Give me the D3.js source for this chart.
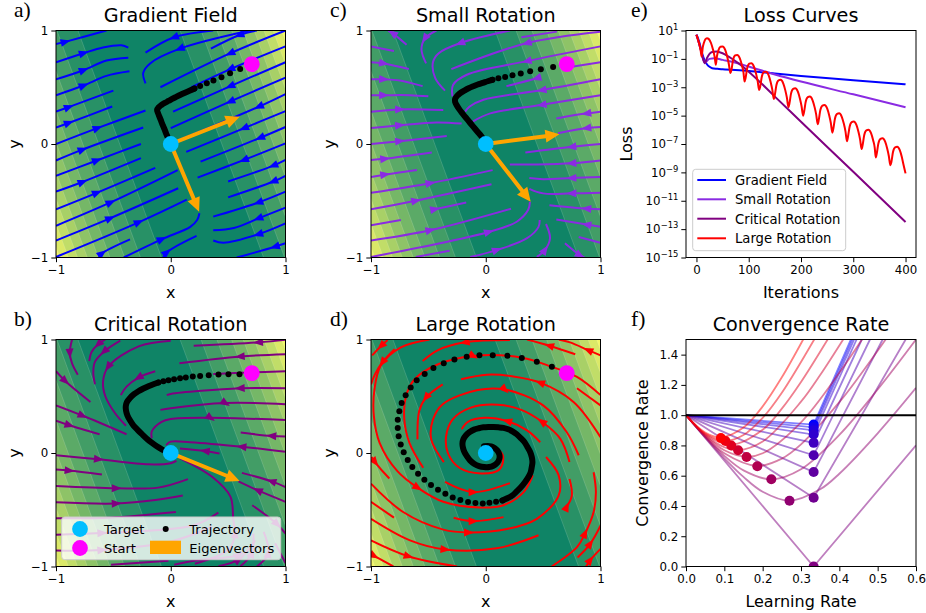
<!DOCTYPE html>
<html lang="en">
<head>
<meta charset="UTF-8">
<title>Rotation fields</title>
<style>
body { margin: 0; background: #fff; }
text { font-family: "DejaVu Sans", sans-serif; fill: #000; }
</style>
</head>
<body>
<div id="chart"></div>
<script src="https://d3js.org/d3.v7.min.js"></script>
<script>
// streamlines in data coords, flow order. a third element marks where the arrowhead sits
var gradLines = [
  [[-1,.88],[-.92,.90,1],[-.56,1]],
  [[-1,.72],[-.76,.80,1],[-.59,.85],[-.43,.87],[-.37,.85]],
  [[-1,.57],[-.76,.65,1],[-.56,.735],[-.37,.76]],
  [[-1,.43],[-.76,.515,1],[-.56,.60],[-.36,.64]],
  [[-1,.285],[-.89,.325,1],[-.5,.47]],
  [[-1,.145],[-.89,.185,1],[-.51,.33]],
  [[-1,0],[-.64,.14,1],[-.22,.295]],
  [[-1,-.145],[-.77,-.05,1],[-.24,.145]],
  [[-1,-.28],[-.645,-.145,1],[-.26,0]],
  [[-1,-.42],[-.77,-.335,1],[-.26,-.125]],
  [[-1,-.575],[-.645,-.43,1],[-.135,-.21]],
  [[-1,-.72],[-.525,-.515,1],[.06,-.23]],
  [[-1,-.85],[-.53,-.655,1],[.065,-.39]],
  [[-1,-.995],[-.28,-.69,1],[.14,-.49]],
  [[-.41,-1],[-.08,-.84,1],[.17,-.73],[.23,-.67],[.25,-.61]],
  [[-.625,-1],[-.6,-.965,1],[-.355,-.84]],
  [[-.065,-1],[-.035,-.955,1],[.225,-.81]],
  [[.37,1],[.03,.94,1],[-.22,.805]],
  [[.69,1],[.08,.84,1],[-.18,.71],[-.24,.625],[-.22,.535]],
  [[.75,1],[.6,.96,1],[.35,.84]],
  [[1,1],[.52,.80,1],[-.09,.5]],
  [[1,.86],[.52,.66,1],[.18,.5]],
  [[1,.72],[.52,.51,1],[.02,.285]],
  [[1,.585],[.52,.375,1],[0,.14]],
  [[1,.44],[.77,.33,1],[.04,.02]],
  [[1,.29],[.64,.14,1],[.135,-.07]],
  [[1,.15],[.78,.055,1],[.26,-.155]],
  [[1,.005],[.64,-.14,1],[.234,-.296]],
  [[1,-.14],[.895,-.19,1],[.5,-.33]],
  [[1,-.28],[.895,-.33,1],[.5,-.47]],
  [[1,-.42],[.765,-.515,1],[.37,-.64]],
  [[1,-.56],[.765,-.655,1],[.55,-.74],[.37,-.76]],
  [[1,-.70],[.765,-.795,1],[.46,-.87],[.37,-.85]],
  [[1,-.875],[.91,-.905,1],[.575,-1]]
];
var smallLines = [
  [[-.69,.875],[-.81,.975,1],[-.85,1]],
  [[-1,.86],[-.8,.82]],
  [[-1,.72],[-.89,.71,1],[-.67,.66]],
  [[-1,.57],[-.89,.57,1],[-.75,.56],[-.55,.51]],
  [[-1,.43],[-.89,.43,1],[-.66,.43],[-.5,.42]],
  [[-1,.285],[-.75,.305,1],[-.37,.30]],
  [[-1,.14],[-.75,.165,1],[-.43,.19],[-.21,.18]],
  [[-1,0],[-.75,.025,1],[-.34,.07]],
  [[-1,-.14],[-.88,-.13,1],[-.47,-.075]],
  [[-1,-.29],[-.88,-.27,1],[-.6,-.23]],
  [[-1,-.43],[-.485,-.345,1],[.06,-.23]],
  [[-1,-.575],[-.61,-.5,1],[.05,-.355]],
  [[-.47,-.58],[-.445,-.575,1],[-.17,-.515]],
  [[-1,-.715],[-.74,-.67]],
  [[-1,-.85],[-.485,-.76,1],[.22,-.57]],
  [[-1,-.995],[.025,-.775,1],[.27,-.685],[.37,-.58],[.385,-.51]],
  [[-.61,-.995],[-.315,-.94]],
  [[-.135,-.995],[.095,-.935,1],[.36,-.83],[.46,-.73],[.47,-.67]],
  [[.445,-.995],[.515,-.935,1],[.56,-.83],[.525,-.705]],
  [[.69,-.875],[.82,-.98,1],[.86,-1]],
  [[-.43,1],[-.53,.93,1],[-.56,.83],[-.52,.71]],
  [[.21,1],[-.22,.89,1],[-.41,.8],[-.46,.72],[-.44,.58],[-.355,.47]],
  [[.62,.99],[.31,.94]],
  [[1,.99],[.36,.89,1],[-.3,.66]],
  [[1,.86],[.36,.73,1],[-.165,.61],[-.285,.52],[-.29,.42]],
  [[1,.72],[.75,.68]],
  [[.475,.59],[.445,.58,1],[.18,.51]],
  [[1,.57],[.49,.475,1],[-.02,.39],[-.14,.33],[-.18,.285]],
  [[1,.43],[.49,.345,1],[.04,.27],[-.11,.2]],
  [[1,.285],[.88,.27,1],[.615,.225]],
  [[1,.15],[.88,.14,1],[.63,.095]],
  [[1,0],[.75,-.025,1],[.345,-.075]],
  [[1,-.145],[.75,-.17,1],[.445,-.18],[.21,-.18]],
  [[1,-.29],[.75,-.30,1],[.5,-.31],[.38,-.30]],
  [[1,-.43],[.75,-.435,1],[.5,-.435],[.38,-.395]],
  [[1,-.575],[.88,-.57,1],[.555,-.54]],
  [[1,-.73],[.88,-.71,1],[.615,-.665]],
  [[1,-.87],[.81,-.82]]
];
var critLines = [
  [[-.86,1],[-.88,.88,1],[-.86,.79],[-.81,.69]],
  [[-1,.72],[-.92,.635,1],[-.70,.45]],
  [[-.57,1],[-.63,.96,1],[-.69,.89],[-.71,.81]],
  [[-.44,.99],[-.58,.895,1],[-.66,.805],[-.675,.71],[-.66,.605]],
  [[0,.99],[-.28,.94],[-.545,.76,1],[-.59,.63],[-.57,.5],[-.485,.35],[-.39,.24]],
  [[-.135,.72],[-.28,.665,1],[-.385,.585],[-.435,.51]],
  [[-1,.42],[-.77,.33,1],[-.385,.165]],
  [[-1,.285],[-.885,.245,1],[-.62,.165]],
  [[1,.997],[.765,.975,1],[.2,.945]],
  [[1,.87],[.605,.85,1],[.075,.79]],
  [[1,.72],[.7,.71],[.37,.695]],
  [[1,.57],[.605,.57,1],[0,.52],[-.035,.51]],
  [[1,.43],[.475,.44,1],[0,.395],[-.09,.38]],
  [[1,.29],[.345,.31,1],[0,.30],[-.08,.275],[-.165,.19],[-.165,.13]],
  [[1,.145],[.88,.15,1],[.61,.18]],
  [[1,.01],[.62,.055,1],[.17,.095],[0,.10],[-.04,.07]],
  [[.425,-.005],[.30,.017,1],[.08,.04]],
  [[-1,-.02],[-.63,-.055,1],[-.195,-.10],[0,-.09],[.05,-.07]],
  [[-1,-.145],[-.885,-.155,1],[-.6,-.19]],
  [[-1,-.29],[-.475,-.31,1],[-.11,-.305],[.15,-.23]],
  [[-1,-.435],[-.475,-.445,1],[-.135,-.415],[.105,-.375]],
  [[-1,-.575],[-.53,-.57],[.045,-.52]],
  [[-1,-.72],[-.6,-.705,1],[-.135,-.68],[.21,-.635],[.415,-.525]],
  [[-1,-.86],[-.6,-.855,1],[0,-.78],[.36,-.65]],
  [[-.52,-.985],[-.02,-.95]],
  [[.03,-.985],[.23,-.945],[.59,-.9,1],[.62,-.87]],
  [[.415,-.997],[.59,-.94,1],[.735,-.77]],
  [[.605,-1],[.706,-.885,1],[.72,-.71]],
  [[.75,-1],[.85,-.885,1],[.81,-.694]],
  [[.91,-.795],[1,-.97]],
  [[.21,-.975],[.5,-.855],[.56,-.71,1],[.545,-.59],[.52,-.385],[.36,-.21],[.08,-.047]],
  [[1,-.3],[.88,-.25,1],[.62,-.175]],
  [[1,-.43],[.76,-.33,1],[.59,-.25]],
  [[.71,-.46],[.925,-.625,1],[1,-.71]]
];
var largeLines = [
  [[-.855,.995],[-.91,.945,1],[-.99,.86]],
  [[-.795,.915],[-.9,.80,1],[-.965,.695],[-1,.605]],
  [[.21,.995],[-.18,.975,1],[-.42,.905],[-.55,.81]],
  [[-.49,1],[-.74,.93],[-.915,.77],[-.97,.56],[-.975,.325],[-.925,.09],[-.77,-.16],[-.595,-.305,1],[-.37,-.43],[-.05,-.48],[.155,-.46],[.33,-.345],[.41,-.195]],
  [[1,.51],[.795,.67],[.575,.76],[.315,.84],[-.11,.855,1],[-.42,.78],[-.62,.65],[-.695,.50],[-.71,.30],[-.665,.09],[-.545,-.13]],
  [[-.375,.605],[-.52,.49,1],[-.58,.37],[-.595,.12]],
  [[.81,-.02],[.705,.185],[.50,.42],[.165,.56,1],[-.07,.555],[-.375,.43],[-.46,.295],[-.475,.12],[-.365,-.08]],
  [[1,.14],[.765,.45],[.475,.62,1],[.24,.675],[.01,.69],[-.215,.65]],
  [[.73,-.08],[.65,.125],[.49,.275,1],[.31,.38],[.105,.425],[-.13,.40],[-.29,.295],[-.345,.15],[-.33,0],[-.23,-.13],[-.04,-.18],[.12,-.145],[.15,-.025],[.09,.045]],
  [[.475,.095],[.36,.20],[.19,.28,1],[-.01,.31],[-.155,.275],[-.21,.21]],
  [[-.995,-.035],[-.965,-.08,1],[-.84,-.225]],
  [[-1,-.27],[-.72,-.52],[-.37,-.675],[-.15,-.70,1],[.185,-.67],[.445,-.58],[.635,-.375],[.635,-.195],[.525,-.035]],
  [[-1,-.58],[-.66,-.77],[-.355,-.85,1],[.095,-.84],[.46,-.725]],
  [[-1,-.43],[-.80,-.57]],
  [[-1,-.77],[-.675,-.91,1],[-.25,-1]],
  [[-1,-.89],[-.975,-.905,1],[-.805,-1]],
  [[-.28,-.57],[-.11,-.60,1],[.155,-.565]],
  [[-.355,-.255],[-.11,-.345,1],[.21,-.265]],
  [[.575,-1],[.795,-.83],[.865,-.71,1],[.94,-.52],[.96,-.345],[.94,-.17]],
  [[.705,-.475,1],[.75,-.375],[.73,-.23]],
  [[.80,-.92],[.91,-.80,1],[1,-.64]],
  [[.875,-1],[.91,-.945,1],[1,-.845]],
  [[1,.42],[.795,.57]],
  [[1,.86],[.895,.905,1],[.735,.975],[.635,1]],
  [[.78,.87],[.555,.945,1],[.36,1]]
];

var gradTraj = [[.605,.66],[.517,.624],[.442,.588],[.372,.559],[.314,.535],[.256,.512],[.206,.488],[.163,.47],[.119,.45],[.081,.432],[.047,.415],[.012,.397],[-.02,.379],[-.052,.362],[-.081,.344],[-.105,.324],[-.119,.3],[-.11,.27],[-.099,.241],[-.087,.212],[-.076,.182],[-.064,.153],[-.052,.124],[-.041,.094],[-.029,.065],[-.017,.035]];
var smallTraj = [[.587,.679],[.48,.659],[.387,.641],[.305,.621],[.233,.606],[.169,.591],[.11,.579],[.058,.565],[.017,.553],[-.026,.538],[-.07,.524],[-.108,.509],[-.149,.491],[-.186,.471],[-.224,.447],[-.25,.424],[-.267,.397],[-.267,.371],[-.253,.341],[-.233,.309],[-.209,.276],[-.183,.244],[-.157,.212],[-.128,.176],[-.099,.141],[-.07,.106],[-.041,.071],[-.02,.041]];
var critTraj = [[.599,.694],[.503,.694],[.416,.691],[.331,.685],[.256,.679],[.192,.674],[.131,.665],[.081,.659],[.029,.65],[-.02,.641],[-.064,.632],[-.108,.621],[-.151,.606],[-.195,.588],[-.238,.568],[-.282,.544],[-.32,.518],[-.355,.485],[-.381,.45],[-.392,.412],[-.39,.374],[-.378,.332],[-.355,.288],[-.326,.244],[-.291,.206],[-.253,.168],[-.209,.126],[-.166,.091],[-.122,.059],[-.078,.032],[-.049,.018]];
var largeTraj = [[.576,.759],[.445,.803],[.314,.838],[.189,.856],[.061,.862],[-.055,.862],[-.166,.847],[-.273,.824],[-.366,.791],[-.456,.75],[-.532,.697],[-.602,.641],[-.654,.576],[-.698,.509],[-.733,.441],[-.753,.368],[-.767,.294],[-.767,.221],[-.759,.147],[-.741,.074],[-.715,.006],[-.68,-.062],[-.64,-.124],[-.59,-.182],[-.535,-.235],[-.477,-.282],[-.416,-.324],[-.352,-.359],[-.288,-.391],[-.221,-.415],[-.154,-.432],[-.09,-.441],[-.026,-.444],[.032,-.438],[.09,-.429],[.145,-.418],[.192,-.397],[.233,-.374],[.27,-.338],[.308,-.3],[.343,-.256],[.372,-.212],[.392,-.168],[.401,-.124],[.407,-.079],[.401,-.035],[.387,.009],[.363,.053],[.337,.097],[.305,.132],[.27,.165],[.233,.191],[.195,.209],[.154,.221],[.11,.226],[.067,.229],[.023,.229],[-.02,.226],[-.061,.218],[-.102,.206],[-.14,.185],[-.172,.156],[-.195,.121],[-.203,.082],[-.198,.044],[-.186,.009],[-.166,-.026],[-.137,-.065],[-.102,-.094],[-.058,-.115],[-.015,-.124],[.029,-.124],[.067,-.112],[.102,-.085],[.119,-.05],[.119,-.015],[.102,.021],[.076,.044],[.047,.059],[.017,.062],[-.015,.059]];
// from this point on the dots overlap into a solid band
var gradDense = 6, smallDense = 7, critDense = 11, largeDense = 35;

var gradEig = [[.6,.24],[.247,-.597]];
var smallEig = [[.642,.085],[.392,-.509]];
var critEig = [[.6,-.247]];
var largeEig = [];

var target = [0, 0];
var start = [.706, .703];

// contour edges of the loss surface, read along the steep axis
var bandLevels = [.418,.59,.72,.84,.935,1.025,1.105,1.18,1.25];
var bandAngle = 20;

// loss curves, log10 of the loss
var gradLoss = [[0,.7],[3,.45],[6,.1],[9,-.35],[12,-.75],[15,-1.05],[20,-1.38],[25,-1.56],[30,-1.66],[40,-1.7],[50,-1.73],[100,-1.85],[150,-2.03],[200,-2.2],[300,-2.5],[400,-2.79]];
var smallLoss = [[0,.7],[3,.35],[6,-.05],[10,-.6],[13,-1.05],[16,-1.3],[20,-1.15],[25,-1],[35,-.95],[50,-1.07],[75,-1.27],[100,-1.54],[150,-2.1],[200,-2.6],[300,-3.5],[400,-4.41]];
var critLoss = [[0,.7],[3,.35],[6,-.05],[10,-.6],[13,-1.05],[16,-1.3],[20,-.95],[25,-.65],[30,-.52],[38,-.48],[50,-.6],[65,-.92],[80,-1.3],[100,-1.9],[150,-3.66],[200,-5.43],[300,-8.96],[400,-12.5]];
var largeLoss = [[0,.7],[3,.35],[6,-.05],[8,-.4],[10,-.83],[12,-.2],[14,.1],[17,.38],[20,.46],[24,.38],[28,.1],[32,-.4],[35,-.9],
  [37,-1.42],[39,-.85],[42,-.4],[46,-.15],[50,-.13],[55,-.37],[59,-.87],[62,-1.38],
  [65,-2],[67,-1.77],[70,-1.08],[74,-.76],[78,-.72],[83,-.96],[87,-1.46],[90,-1.97],
  [92,-2.6],[94,-2.35],[97,-1.66],[101,-1.34],[105,-1.3],[110,-1.54],[114,-2.04],[117,-2.55],
  [120,-3.2],[122,-2.95],[125,-2.26],[129,-1.94],[133,-1.9],[138,-2.14],[142,-2.64],[145,-3.15],
  [148,-3.82],[150,-3.53],[153,-2.84],[157,-2.52],[161,-2.48],[166,-2.72],[170,-3.22],[173,-3.73],
  [176,-4.4],[178,-4.12],[181,-3.43],[185,-3.11],[189,-3.07],[194,-3.31],[198,-3.81],[201,-4.32],
  [204,-5],[206,-4.71],[209,-4.02],[213,-3.7],[217,-3.66],[222,-3.9],[226,-4.4],[229,-4.91],
  [232,-5.6],[234,-5.3],[237,-4.61],[241,-4.29],[245,-4.25],[250,-4.49],[254,-4.99],[257,-5.5],
  [260,-6.2],[262,-5.89],[265,-5.2],[269,-4.88],[273,-4.84],[278,-5.08],[282,-5.58],[285,-6.09],
  [288,-6.8],[290,-6.47],[293,-5.78],[297,-5.46],[301,-5.42],[306,-5.66],[310,-6.16],[313,-6.67],
  [316,-7.35],[318,-7.05],[321,-6.36],[325,-6.04],[329,-6],[334,-6.24],[338,-6.74],[341,-7.25],
  [343,-7.95],[345,-7.65],[348,-6.96],[352,-6.64],[356,-6.6],[361,-6.84],[365,-7.34],[368,-7.85],
  [371,-8.5],[373,-8.25],[376,-7.56],[380,-7.24],[384,-7.2],[389,-7.44],[393,-7.94],[396,-8.45],[400,-9.07]];

// convergence rate vs learning rate, best point of each curve is in rateBest
var rateCurvesReal = [
  [[0,1],[.333,.9376],[.43,1.5]],
  [[0,1],[.333,.92],[.434,1.5]],
  [[0,1],[.333,.90],[.4386,1.5]],
  [[0,1],[.333,.872],[.445,1.5]],
  [[0,1],[.333,.817],[.4587,1.5]],
  [[0,1],[.333,.735],[.48,1.5]],
  [[0,1],[.333,.624],[.513,1.5]],
  [[0,1],[.333,.454],[.573,1.5]],
  [[0,1],[.333,0],[.6,.8]]
];
var rateCurvesComplex = [
  [[0,1],[.05,.853],[.1,.715],[.15,.592],[.2,.494],[.27,.435],[.35,.51],[.4,.613],[.5,.88],[.6,1.18]],
  [[0,1],[.05,.857],[.1,.731],[.15,.635],[.2226,.576],[.3,.643],[.4,.87],[.5,1.17],[.6,1.5]],
  [[0,1],[.05,.86],[.1,.749],[.186,.665],[.25,.713],[.3,.807],[.4,1.086],[.45,1.25],[.5208,1.5]],
  [[0,1],[.05,.865],[.1,.768],[.158,.725],[.2,.748],[.3,.953],[.4,1.28],[.459,1.5]],
  [[0,1],[.05,.869],[.1,.788],[.136,.769],[.2,.826],[.3,1.089],[.35,1.265],[.41,1.5]],
  [[0,1],[.05,.874],[.118,.804],[.2,.903],[.25,1.043],[.3,1.219],[.3695,1.5]],
  [[0,1],[.05,.879],[.103,.831],[.15,.869],[.2,.982],[.25,1.148],[.3345,1.5]],
  [[0,1],[.05,.885],[.091,.853],[.15,.918],[.2,1.058],[.25,1.25],[.3057,1.5]]
];
var rateBest = [[.333,.9376],[.333,.92],[.333,.90],[.333,.872],[.333,.817],[.333,.735],[.333,.624],[.333,.454],[.333,0],
  [.27,.435],[.2226,.576],[.186,.662],[.158,.724],[.136,.768],[.118,.80],[.103,.829],[.091,.849]];

var fieldTicks = [-1, 0, 1];
var lossTicks = [1,-1,-3,-5,-7,-9,-11,-13,-15];
var iterTicks = [0,100,200,300,400];
var lrTicks = [0,.1,.2,.3,.4,.5,.6];
var rateTicks = [0,.2,.4,.6,.8,1,1.2,1.4];

var svg = d3.select("#chart").append("svg").attr("width", 926).attr("height", 613);

var bandColor = d3.scaleLinear().domain([0, 9]).range(["#0f8466", "#f4f668"]);
var clipId = 0;

function addAxes(box, x, y, xTicks, yTicks, xFmt, yFmt, title, xLabel, yLabel, yLabelX, letter, letterX) {
  var g = svg.append("g");
  var xa = g.append("g").attr("transform", "translate(0," + box.bottom + ")")
    .call(d3.axisBottom(x).tickValues(xTicks).tickFormat(xFmt).tickSize(4.7).tickPadding(3));
  var ya = g.append("g").attr("transform", "translate(" + box.left + ",0)")
    .call(d3.axisLeft(y).tickValues(yTicks).tickFormat(yFmt).tickSize(4.7).tickPadding(3));
  xa.select(".domain").remove();
  ya.select(".domain").remove();
  g.selectAll(".tick text").style("font-family", '"DejaVu Sans"').style("font-size", "11.8px");
  g.append("rect").attr("x", box.left).attr("y", box.top)
    .attr("width", box.right - box.left).attr("height", box.bottom - box.top)
    .attr("fill", "none").attr("stroke", "#000").attr("stroke-width", 1);
  var cx = (box.left + box.right) / 2;
  g.append("text").attr("x", cx).attr("y", box.top - 8.5).attr("text-anchor", "middle")
    .style("font-size", "19.2px").text(title);
  g.append("text").attr("x", cx).attr("y", box.bottom + 40).attr("text-anchor", "middle")
    .style("font-size", "16px").text(xLabel);
  g.append("text").attr("transform", "translate(" + yLabelX + "," + (box.top + box.bottom) / 2 + ") rotate(-90)")
    .attr("text-anchor", "middle").style("font-size", "16px").text(yLabel);
  g.append("text").attr("x", letterX).attr("y", box.top - 13.5)
    .style("font-family", '"Liberation Serif"').style("font-size", "21.5px").text(letter);
  return g;
}

function fieldFmt(d) { return d < 0 ? "\u2212" + Math.abs(d) : d; }

function drawField(box, lines, color, traj, dense, eig, title, letter, letterX, yLabelX) {
  var x = d3.scaleLinear().domain([-1, 1]).range([box.left, box.right]);
  var y = d3.scaleLinear().domain([-1, 1]).range([box.bottom, box.top]);
  var id = "clip" + (clipId++);
  svg.append("clipPath").attr("id", id).append("rect")
    .attr("x", box.left).attr("y", box.top).attr("width", box.right - box.left).attr("height", box.bottom - box.top);
  var plot = svg.append("g").attr("clip-path", "url(#" + id + ")");

  // filled contour bands
  var line = d3.line().x(function(d) { return x(d[0]); }).y(function(d) { return y(d[1]); });
  plot.append("rect").attr("x", box.left).attr("y", box.top).attr("width", box.right - box.left)
    .attr("height", box.bottom - box.top).attr("fill", bandColor(0));
  var co = Math.cos(bandAngle * Math.PI / 180), si = Math.sin(bandAngle * Math.PI / 180);
  bandLevels.forEach(function(c, k) {
    [1, -1].forEach(function(side) {
      var pts = [[(side * c - 1.3 * si) / co, 1.3], [(side * c + 1.3 * si) / co, -1.3], [side * 4, -1.3], [side * 4, 1.3]];
      plot.append("path").attr("d", line(pts) + "Z").attr("fill", bandColor(k + 1))
        .attr("stroke", "#fff").attr("stroke-opacity", .3).attr("stroke-width", .5);
    });
  });

  // streamlines
  var smooth = d3.line().curve(d3.curveCatmullRom.alpha(.5))
    .x(function(d) { return x(d[0]); }).y(function(d) { return y(d[1]); });
  plot.selectAll("path.stream").data(lines).enter().append("path").attr("class", "stream")
    .attr("d", smooth).attr("fill", "none").attr("stroke", color).attr("stroke-width", 2);
  lines.forEach(function(l) {
    l.forEach(function(p, i) {
      if (!p[2]) return;
      var a = l[Math.max(i - 1, 0)], b = l[Math.min(i + 1, l.length - 1)];
      // mostly follow the segment ahead so heads sit on the curve
      var ang = Math.atan2(y(b[1]) - y(p[1]), x(b[0]) - x(p[0])) * .6 + Math.atan2(y(p[1]) - y(a[1]), x(p[0]) - x(a[0])) * .4;
      if (i == 0) ang = Math.atan2(y(b[1]) - y(p[1]), x(b[0]) - x(p[0]));
      plot.append("path").attr("d", "M5.5,0L-4.5,-4L-4.5,4Z").attr("fill", color)
        .attr("transform", "translate(" + x(p[0]) + "," + y(p[1]) + ") rotate(" + ang * 180 / Math.PI + ")");
    });
  });

  // eigenvector arrows
  eig.forEach(function(e) {
    var dx = x(e[0]) - x(0), dy = y(e[1]) - y(0), len = Math.sqrt(dx * dx + dy * dy);
    plot.append("path").attr("d", "M0,-2L" + (len - 14) + ",-2L" + (len - 14) + ",-6.5L" + len + ",0L" + (len - 14) + ",6.5L" + (len - 14) + ",2L0,2Z")
      .attr("fill", "#ffa500")
      .attr("transform", "translate(" + x(0) + "," + y(0) + ") rotate(" + Math.atan2(dy, dx) * 180 / Math.PI + ")");
  });

  // trajectory and end points
  plot.append("path").attr("d", d3.line().curve(d3.curveCatmullRom.alpha(.5))
      .x(function(d) { return x(d[0]); }).y(function(d) { return y(d[1]); })(traj.slice(dense)))
    .attr("fill", "none").attr("stroke", "#000").attr("stroke-width", 6).attr("stroke-linecap", "round");
  plot.selectAll("circle.traj").data(traj.slice(0, dense + 1)).enter().append("circle").attr("class", "traj")
    .attr("cx", function(d) { return x(d[0]); }).attr("cy", function(d) { return y(d[1]); })
    .attr("r", 3).attr("fill", "#000");
  plot.append("circle").attr("cx", x(start[0])).attr("cy", y(start[1])).attr("r", 7.9).attr("fill", "#ff00ff");
  plot.append("circle").attr("cx", x(target[0])).attr("cy", y(target[1])).attr("r", 7.9).attr("fill", "#00bfff");

  addAxes(box, x, y, fieldTicks, fieldTicks, fieldFmt, fieldFmt, title, "x", "y", yLabelX, letter, letterX);
}

var boxA = {left: 56, right: 285.5, top: 30.5, bottom: 257.5};
var boxC = {left: 371, right: 600.5, top: 30.5, bottom: 257.5};
var boxB = {left: 56, right: 285.5, top: 339.5, bottom: 566.5};
var boxD = {left: 371, right: 600.5, top: 339.5, bottom: 566.5};
var boxE = {left: 686, right: 916, top: 30.5, bottom: 257.5};
var boxF = {left: 686, right: 916, top: 339.5, bottom: 566.5};

drawField(boxA, gradLines, "#0000ff", gradTraj, gradDense, gradEig, "Gradient Field", "a)", 14, 20);
drawField(boxC, smallLines, "#8a2be2", smallTraj, smallDense, smallEig, "Small Rotation", "c)", 330, 335);
drawField(boxB, critLines, "#800080", critTraj, critDense, critEig, "Critical Rotation", "b)", 14, 20);
drawField(boxD, largeLines, "#ff0000", largeTraj, largeDense, largeEig, "Large Rotation", "d)", 330, 335);

// legend in panel b
var lg = svg.append("g");
lg.append("rect").attr("x", 61.7).attr("y", 517).attr("width", 219).attr("height", 42.7).attr("rx", 3)
  .attr("fill", "#fff").attr("fill-opacity", .8).attr("stroke", "#ccc").attr("stroke-width", 1);
lg.append("circle").attr("cx", 80).attr("cy", 529).attr("r", 7.9).attr("fill", "#00bfff");
lg.append("circle").attr("cx", 80).attr("cy", 548).attr("r", 7.9).attr("fill", "#ff00ff");
lg.append("circle").attr("cx", 165.7).attr("cy", 529).attr("r", 3).attr("fill", "#000");
lg.append("rect").attr("x", 150).attr("y", 540.7).attr("width", 31).attr("height", 13.3).attr("fill", "#ffa500");
[["Target", 104, 533.5], ["Start", 104, 552.5], ["Trajectory", 189.3, 533.5], ["Eigenvectors", 189.3, 552.5]].forEach(function(t) {
  lg.append("text").attr("x", t[1]).attr("y", t[2]).style("font-size", "13.1px").text(t[0]);
});

// loss curves
var lx = d3.scaleLinear().domain([-20, 420]).range([boxE.left, boxE.right]);
var ly = d3.scaleLinear().domain([-15, 1]).range([boxE.bottom, boxE.top]);
var lossSeries = [
  ["Gradient Field", gradLoss, "#0000ff"],
  ["Small Rotation", smallLoss, "#8a2be2"],
  ["Critical Rotation", critLoss, "#800080"],
  ["Large Rotation", largeLoss, "#ff0000"]
];
var lossLine = d3.line().curve(d3.curveMonotoneX).x(function(d) { return lx(d[0]); }).y(function(d) { return ly(d[1]); });
lossSeries.forEach(function(s) {
  svg.append("path").attr("d", lossLine(s[1])).attr("fill", "none").attr("stroke", s[2]).attr("stroke-width", 2);
});
var eg = addAxes(boxE, lx, ly, iterTicks, lossTicks, function(d) { return d; }, function(d) { return "10"; },
  "Loss Curves", "Iterations", "Loss", 632, "e)", 631);
// exponents on the log axis
eg.selectAll("g").filter(function() { return this.parentNode === eg.node(); }).filter(function(d, i) { return i == 1; })
  .selectAll(".tick").each(function(d) {
    var t = d3.select(this).select("text");
    var lbl = d < 0 ? "\u2212" + Math.abs(d) : "" + d;
    t.text(null);
    t.append("tspan").text("10");
    t.append("tspan").attr("dy", "-5").style("font-size", "8.4px").text(lbl);
  });
var el = svg.append("g");
el.append("rect").attr("x", 692.7).attr("y", 169.3).attr("width", 153).attr("height", 81.4).attr("rx", 3)
  .attr("fill", "#fff").attr("fill-opacity", .8).attr("stroke", "#ccc").attr("stroke-width", 1);
lossSeries.forEach(function(s, i) {
  var ly2 = [180, 199.3, 218.7, 238.3][i];
  el.append("line").attr("x1", 697.3).attr("x2", 726).attr("y1", ly2).attr("y2", ly2)
    .attr("stroke", s[2]).attr("stroke-width", 2);
  el.append("text").attr("x", 735).attr("y", ly2 + 5).style("font-size", "13.2px").text(s[0]);
});

// convergence rate
var rx = d3.scaleLinear().domain([0, .6]).range([boxF.left, boxF.right]);
var ry = d3.scaleLinear().domain([0, 1.5]).range([boxF.bottom, boxF.top]);
svg.append("clipPath").attr("id", "clipF").append("rect")
  .attr("x", boxF.left).attr("y", boxF.top).attr("width", boxF.right - boxF.left).attr("height", boxF.bottom - boxF.top);
var fp = svg.append("g").attr("clip-path", "url(#clipF)");
var rateColor = d3.scaleLinear().domain([0, 8, 16]).range(["#0000ff", "#800080", "#ff0000"]);
var straight = d3.line().x(function(d) { return rx(d[0]); }).y(function(d) { return ry(d[1]); });
var bent = d3.line().curve(d3.curveCatmullRom.alpha(.5)).x(function(d) { return rx(d[0]); }).y(function(d) { return ry(d[1]); });
rateCurvesReal.forEach(function(c, i) {
  fp.append("path").attr("d", straight(c)).attr("fill", "none").attr("stroke", rateColor(i))
    .attr("stroke-opacity", .5).attr("stroke-width", 1.8);
});
rateCurvesComplex.forEach(function(c, i) {
  fp.append("path").attr("d", bent(c)).attr("fill", "none").attr("stroke", rateColor(i + 9))
    .attr("stroke-opacity", .5).attr("stroke-width", 1.8);
});
fp.append("line").attr("x1", rx(0)).attr("x2", rx(.6)).attr("y1", ry(1)).attr("y2", ry(1))
  .attr("stroke", "#000").attr("stroke-width", 2);
rateBest.forEach(function(p, i) {
  fp.append("circle").attr("cx", rx(p[0])).attr("cy", ry(p[1])).attr("r", 5).attr("fill", rateColor(i));
});
addAxes(boxF, rx, ry, lrTicks, rateTicks, d3.format(".1f"), d3.format(".1f"),
  "Convergence Rate", "Learning Rate", "Convergence Rate", 648, "f)", 631);
</script>
</body>
</html>
